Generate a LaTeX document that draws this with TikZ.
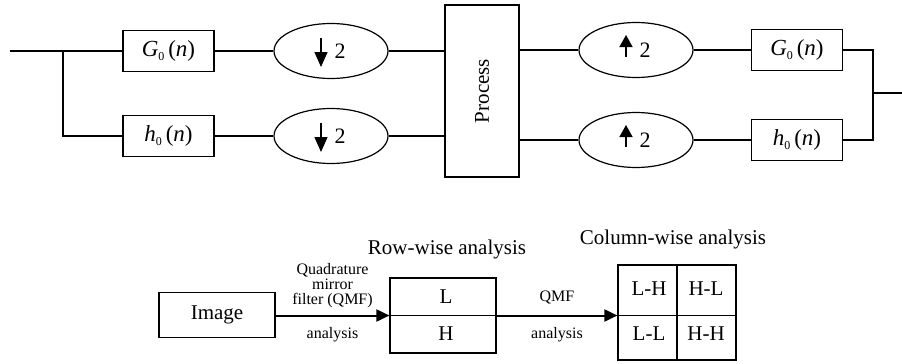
\documentclass[tikz,border=0pt]{standalone}
\usepackage{fontspec}
\setmainfont{Liberation Serif}
\usepackage{graphicx}
\usetikzlibrary{shapes.geometric,arrows.meta}
\newcommand{\fsz}[1]{\fontsize{#1}{#1}\selectfont}
\newcommand{\zsub}{\lower4pt\hbox{\fsz{12}0}}
\tikzset{
  base/.style={line width=1.2pt},
  fbox/.style={draw, base, rectangle, minimum width=91pt, minimum height=41pt, inner sep=0pt, font=\fsz{23}},
  ell/.style={draw, base, ellipse, minimum width=114pt, minimum height=55pt, inner sep=0pt, font=\fsz{22}},
  wire/.style={base},
  arr/.style={line width=2pt, -{Triangle[length=13pt,width=12pt]}},
  small/.style={font=\fsz{16}, inner sep=0pt, align=center},
  big/.style={font=\fsz{21}, inner sep=0pt},
  inarr/.style={line width=1.4pt, -{Triangle[length=15pt,width=13pt]}},
  uparr/.style={line width=1.4pt, -{Triangle[length=12pt,width=13pt]}},
}
\begin{document}
\begin{tikzpicture}[x=1pt, y=-1pt]
\useasboundingbox (0,0) rectangle (902,364);
% ---------- top: filter bank ----------
\coordinate (in) at (10,51);
\coordinate (br) at (63,51);
\node[fbox] (G1) at (168.5,51) {\textit{G}\zsub\,(\textit{n})};
\node[fbox] (h1) at (168.5,136) {\textit{h}\zsub\,(\textit{n})};
\node[ell] (D1) at (331,51) {\hspace*{18pt}2};
\node[ell] (D2) at (331,136) {\hspace*{18pt}2};
\node[draw, base, minimum width=74pt, minimum height=172pt, inner sep=0pt, font=\fsz{21}] (P) at (482,91) {\rotatebox{90}{Process}};
\node[ell] (U1) at (636,50) {\hspace*{18pt}2};
\node[ell] (U2) at (636,140) {\hspace*{18pt}2};
\node[fbox] (G2) at (797,50) {\textit{G}\zsub\,(\textit{n})};
\node[fbox] (h2) at (797,140) {\textit{h}\zsub\,(\textit{n})};
\coordinate (jn) at (873,93);
\coordinate (out) at (902,93);

\draw[wire] (in) -- (G1);
\draw[wire] (br) |- (h1);
\draw[wire] (G1) -- (D1);
\draw[wire] (h1) -- (D2);
\draw[wire] (D1.east) -- (D1.east -| P.west);
\draw[wire] (D2.east) -- (D2.east -| P.west);
\draw[wire] (U1.west -| P.east) -- (U1.west);
\draw[wire] (U2.west -| P.east) -- (U2.west);
\draw[wire] (U1) -- (G2);
\draw[wire] (U2) -- (h2);
\draw[wire] (G2.east) -| (jn) |- (h2.east);
\draw[wire] (jn) -- (out);

% arrows inside ellipses
\draw[inarr] ([xshift=-10pt,yshift=13pt]D1.center) -- ([xshift=-10pt,yshift=-16pt]D1.center);
\draw[inarr] ([xshift=-10pt,yshift=13pt]D2.center) -- ([xshift=-10pt,yshift=-16pt]D2.center);
\draw[uparr] ([xshift=-10pt,yshift=-7pt]U1.center) -- ([xshift=-10pt,yshift=15pt]U1.center);
\draw[uparr] ([xshift=-10pt,yshift=-7pt]U2.center) -- ([xshift=-10pt,yshift=15pt]U2.center);

% ---------- bottom: 2D decomposition ----------
\node[draw, base, minimum width=116pt, minimum height=45pt, inner sep=0pt, font=\fsz{21}] (Img) at (217,315) {Image};
\node[draw, base, minimum width=106pt, minimum height=75pt, inner sep=0pt] (LH) at (443,315.5) {};
\draw[base] (LH.west) -- (LH.east);
\node[big] (Lt) at (446,297) {L};
\node[big] (Ht) at (446,334) {H};
\node[draw, base, minimum width=118pt, minimum height=95pt, inner sep=0pt] (Grid) at (677,312.5) {};
\draw[base] (Grid.west |- LH.center) -- (Grid.east |- LH.center);
\draw[base] (Grid.north) -- (Grid.south);
\node[big] (LHt) at (649,289) {L-H};
\node[big] (HLt) at (706,289) {H-L};
\node[big] (LLt) at (649,334) {L-L};
\node[big] (HHt) at (706,334) {H-H};

\draw[arr] (Img.east |- LH.center) -- node[small, above=7pt] (q1) {Quadrature\\[-1pt]mirror\\[-1pt]filter (QMF)} node[small, below=11pt] (a1) {analysis} (LH.west);
\draw[arr] (LH.east) -- node[small, above=10pt] (q2) {QMF} node[small, below=11pt] (a2) {analysis} (LH.east -| Grid.west);

\node[big] (rw) at (447,249) {Row-wise analysis};
\node[big] (cw) at (673,239) {Column-wise analysis};
\end{tikzpicture}
\end{document}
